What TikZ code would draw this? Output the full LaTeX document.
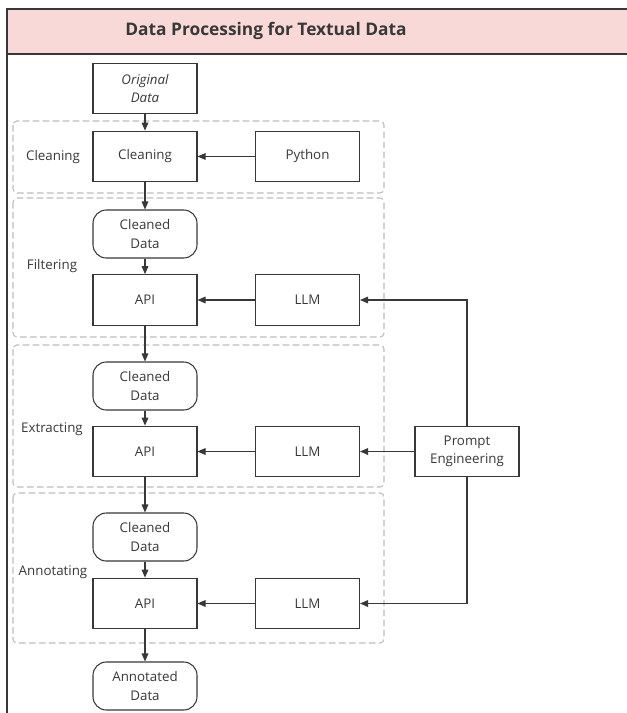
\documentclass[tikz,border=0pt]{standalone}
\usepackage{fontspec}
\setmainfont{Open Sans}
\usetikzlibrary{arrows.meta, positioning}

\definecolor{titlepink}{HTML}{F8D9D7}
\definecolor{inkgray}{HTML}{383838}
\definecolor{groupgray}{HTML}{BDBDBD}

\tikzset{
  box/.style = {draw=inkgray, line width=0.8pt, text=inkgray, minimum width=78pt,
    minimum height=38pt, inner sep=1pt, align=center, font=\fontsize{10}{14}\selectfont},
  databox/.style = {box, rounded corners=10pt, minimum height=36pt},
  group/.style = {draw=groupgray, line width=0.8pt, dash pattern=on 5pt off 2.5pt, rounded corners=3pt},
  grouplabel/.style = {text=inkgray, font=\fontsize{10}{14}\selectfont},
  flow/.style = {draw=inkgray, line width=0.8pt, -{Triangle[length=6pt, width=5pt]}},
}

\begin{document}
\begin{tikzpicture}[x=0.75pt, y=-0.75pt]
			\clip (0,0) rectangle (627,713);
			\def\mid{145};
			\def\side{307.5};

			% frame and title
			\begin{scope}
				\fill [titlepink] (7,9) rectangle (640,54);
				\draw [inkgray, line width=1.4pt] (640,9) -- (7,9) -- (7,720);
				\draw [inkgray, line width=1.4pt] (7,54) -- (640,54);
				\node [text=inkgray, font=\bfseries\fontsize{13}{16}\selectfont] (title) at (266,31) {Data Processing for Textual Data};
			\end{scope}

			% stage groups
			\begin{scope}
				\draw [group] (13,121) rectangle (384,193);
				\draw [group] (13,198) rectangle (384,337);
				\draw [group] (13,345) rectangle (384,487);
				\draw [group] (13,493) rectangle (384,643);

				\node [grouplabel] (lclean) at (53,157) {Cleaning};
				\node [grouplabel] (lfilter) at (52,266) {Filtering};
				\node [grouplabel] (lextract) at (52,429) {Extracting};
				\node [grouplabel] (lannot) at (53,572) {Annotating};
			\end{scope}

			% nodes
			\node [box] (orig) at (\mid,88.5) {\itshape Original\\\itshape Data};
			\node [box] (clean) at (\mid,156.5) {Cleaning};
			\node [box] (python) at (\side,156.5) {Python};

			\node [databox] (cdata1) at (\mid,234) {Cleaned\\Data};
			\node [box] (api1) at (\mid,300) {API};
			\node [box] (llm1) at (\side,300) {LLM};

			\node [databox] (cdata2) at (\mid,386) {Cleaned\\Data};
			\node [box] (api2) at (\mid,451.5) {API};
			\node [box] (llm2) at (\side,451.5) {LLM};
			\node [box] (prompt) at (467,451.5) {Prompt\\Engineering};

			\node [databox] (cdata3) at (\mid,537) {Cleaned\\Data};
			\node [box] (api3) at (\mid,603.5) {API};
			\node [box] (llm3) at (\side,603.5) {LLM};

			\node [databox] (annot) at (\mid,686) {Annotated\\Data};

			% connectors
			\draw [flow] (orig) -- (clean);
			\draw [flow] (python) -- (clean);
			\draw [flow] (clean) -- (cdata1);
			\draw [flow] (cdata1) -- (api1);
			\draw [flow] (llm1) -- (api1);
			\draw [flow] (api1) -- (cdata2);
			\draw [flow] (cdata2) -- (api2);
			\draw [flow] (llm2) -- (api2);
			\draw [flow] (api2) -- (cdata3);
			\draw [flow] (cdata3) -- (api3);
			\draw [flow] (llm3) -- (api3);
			\draw [flow] (api3) -- (annot);

			\draw [flow] (prompt) -- (llm2);
			\draw [flow] (prompt.north) |- (llm1.east);
			\draw [flow] (prompt.south) |- (llm3.east);
		\end{tikzpicture}
\end{document}
